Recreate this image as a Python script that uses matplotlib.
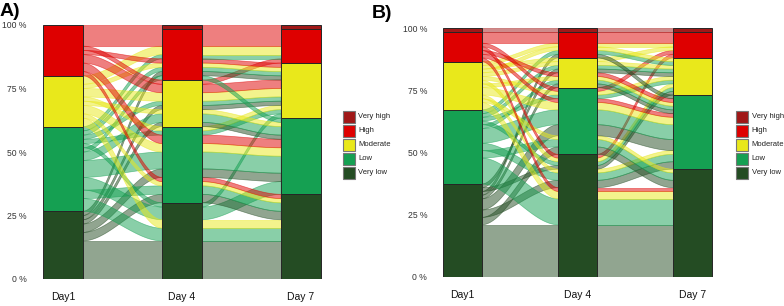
import matplotlib
matplotlib.use("Agg")
import matplotlib.pyplot as plt
import numpy as np
from matplotlib.patches import Polygon, Rectangle
from matplotlib.colors import to_rgba

plt.rcParams['font.family'] = ['Liberation Sans', 'DejaVu Sans']

# ---------------- data ----------------
levels = ["VL", "L", "M", "H", "VH"]          # bottom -> top
level_names = {"VH": "Very high", "H": "High", "M": "Moderate", "L": "Low", "VL": "Very low"}
legend_order = ["VH", "H", "M", "L", "VL"]
days = ["Day1", "Day 4", "Day 7"]
tick_values = [0, 0.25, 0.5, 0.75, 1.0]
tick_labels = ["0 %", "25 %", "50 %", "75 %", "100 %"]

# Panel A: status paths (Day1, Day4, Day7) and number of subjects per path
a_day1 = ["VL", "VL", "VL", "VL", "VL", "VL",
          "L", "L", "L", "L", "L", "L", "L", "L", "L", "L", "L",
          "M", "M", "M", "M", "M", "M", "M", "M",
          "H", "H", "H", "H", "H", "H", "H"]
a_day4 = ["VL", "L", "L", "M", "M", "H",
          "VL", "VL", "VL", "L", "L", "L", "M", "M", "H", "H", "H",
          "VL", "L", "L", "L", "M", "M", "H", "H",
          "L", "L", "M", "M", "H", "H", "VH"]
a_day7 = ["VL", "VL", "L", "L", "M", "M",
          "VL", "L", "M", "VL", "L", "M", "L", "M", "L", "M", "H",
          "VL", "VL", "L", "M", "M", "L", "M", "H",
          "VL", "L", "M", "H", "M", "H", "VH"]
a_n = [9, 2, 2, 1, 1, 1,
       3, 3, 1, 2, 4, 1, 2, 1, 1, 1, 1,
       2, 1, 2, 1, 2, 1, 1, 2,
       1, 2, 2, 1, 1, 4, 1]

# Panel B
b_day1 = ["VL", "VL", "VL", "VL", "VL", "VL", "VL", "VL",
          "L", "L", "L", "L", "L", "L", "L", "L", "L",
          "M", "M", "M", "M", "M", "M", "M", "M", "M", "M", "M",
          "H", "H", "H", "H", "H", "H",
          "VH"]
b_day4 = ["VL", "VL", "VL", "L", "L", "M", "M", "H",
          "VL", "VL", "VL", "L", "L", "L", "M", "M", "H",
          "VL", "VL", "VL", "L", "L", "L", "M", "M", "M", "H", "H",
          "VL", "VL", "L", "L", "M", "H",
          "VH"]
b_day7 = ["VL", "L", "M", "VL", "L", "L", "M", "L",
          "VL", "L", "M", "VL", "L", "M", "L", "M", "M",
          "VL", "L", "M", "VL", "L", "M", "L", "M", "H", "M", "H",
          "VL", "H", "L", "H", "L", "H",
          "VH"]
b_n = [14, 2, 1, 2, 3, 1, 1, 1,
       7, 2, 1, 2, 4, 1, 1, 1, 1,
       2, 1, 1, 1, 2, 1, 1, 1, 1, 1, 1,
       1, 1, 1, 1, 1, 3,
       1]

colors = {"VH": "#A01818", "H": "#DE0000", "M": "#E9E81B",
          "L": "#15A052", "VL": "#244C23"}


def expand(d1, d4, d7, n):
    subj = []
    for a, b, c, k in zip(d1, d4, d7, n):
        subj += [(levels.index(a), levels.index(b), levels.index(c))] * k
    return np.array(subj)


def positions(S):
    N = len(S)
    h = 1.0 / N
    guidance = [(0, 2, 1), (1, 2, 0), (2, 1, 0)]
    pos = np.zeros((N, 3))
    for ai, g in enumerate(guidance):
        order = sorted(range(N), key=lambda s: (S[s, g[0]], S[s, g[1]], S[s, g[2]], s))
        for r, s in enumerate(order):
            pos[s, ai] = r * h
    return pos, h


def draw_panel(ax, d1, d4, d7, n):
    S = expand(d1, d4, d7, n)
    pos, h = positions(S)
    w = 1 / 3
    xs_axis = [1, 2, 3]
    for gi in range(2):
        xa = xs_axis[gi] + w / 2
        xb = xs_axis[gi + 1] - w / 2
        order = np.argsort(pos[:, gi])
        bands = []
        for s in order:
            c = S[s, 0]
            if bands:
                b = bands[-1]
                if b[4] == c and abs(pos[s, gi + 1] - b[3]) < 1e-9 and abs(pos[s, gi] - b[1]) < 1e-9:
                    b[1] = pos[s, gi] + h
                    b[3] = pos[s, gi + 1] + h
                    continue
            bands.append([pos[s, gi], pos[s, gi] + h, pos[s, gi + 1], pos[s, gi + 1] + h, c])
        t = np.linspace(0, 1, 80)
        sm = 3 * t ** 2 - 2 * t ** 3
        x = xa + (xb - xa) * t
        for y0b, y0t, y1b, y1t, c in bands:
            yb = y0b + (y1b - y0b) * sm
            yt = y0t + (y1t - y0t) * sm
            verts = np.vstack([np.column_stack([x, yt]), np.column_stack([x[::-1], yb[::-1]])])
            col = colors[levels[c]]
            ax.add_patch(Polygon(verts, closed=True, facecolor=to_rgba(col, 0.5),
                                 edgecolor=to_rgba(col, 0.55), lw=0.5, zorder=1))
    # strata
    for ai in range(3):
        for li, lv in enumerate(levels):
            cnt = np.sum(S[:, ai] == li)
            if cnt == 0:
                continue
            bottom = np.sum(S[:, ai] < li) * h
            ax.add_patch(Rectangle((xs_axis[ai] - w / 2, bottom), w, cnt * h,
                                   facecolor=colors[lv], edgecolor="#262626", lw=0.7, zorder=3))
    ax.set_xlim(0.74, 3.26)
    ax.set_ylim(0, 1)
    ax.set_yticks(tick_values)
    ax.set_yticklabels(tick_labels, fontsize=6.2, color="#333333")
    ax.set_xticks(xs_axis)
    ax.set_xticklabels(days, fontsize=7.5, color="#111111")
    ax.tick_params(axis="y", length=0, pad=4.0)
    ax.tick_params(axis="x", length=0, pad=9.5)
    for sp in ax.spines.values():
        sp.set_visible(False)


W, H = 784, 306
fig = plt.figure(figsize=(W / 100, H / 100), dpi=100)

axA = fig.add_axes([32 / W, (H - 279) / H, 2.52 * 119 / W, 254 / H])
draw_panel(axA, a_day1, a_day4, a_day7, a_n)
axB = fig.add_axes([432.6 / W, (H - 276.7) / H, 2.52 * 115 / W, 248.4 / H])
draw_panel(axB, b_day1, b_day4, b_day7, b_n)

# legends (key squares + labels), positioned in pixel units
for x0 in (343, 736):
    for i, k in enumerate(legend_order):
        yc = 117 + 14 * i
        fig.patches.append(Rectangle((x0 / W, 1 - (yc + 6) / H), 11.5 / W, 12 / H,
                                     transform=fig.transFigure, facecolor=colors[k],
                                     edgecolor="#777777", lw=0.8))
        fig.text((x0 + 15.5) / W, 1 - yc / H, level_names[k], fontsize=5.5,
                 va="center", ha="left", color="#222222")

fig.text(0 / W, 1 - 11 / H, "A)", fontsize=14, fontweight="bold", va="center", ha="left")
fig.text(372 / W, 1 - 13 / H, "B)", fontsize=14, fontweight="bold", va="center", ha="left")

fig.savefig("out.png", dpi=100)
